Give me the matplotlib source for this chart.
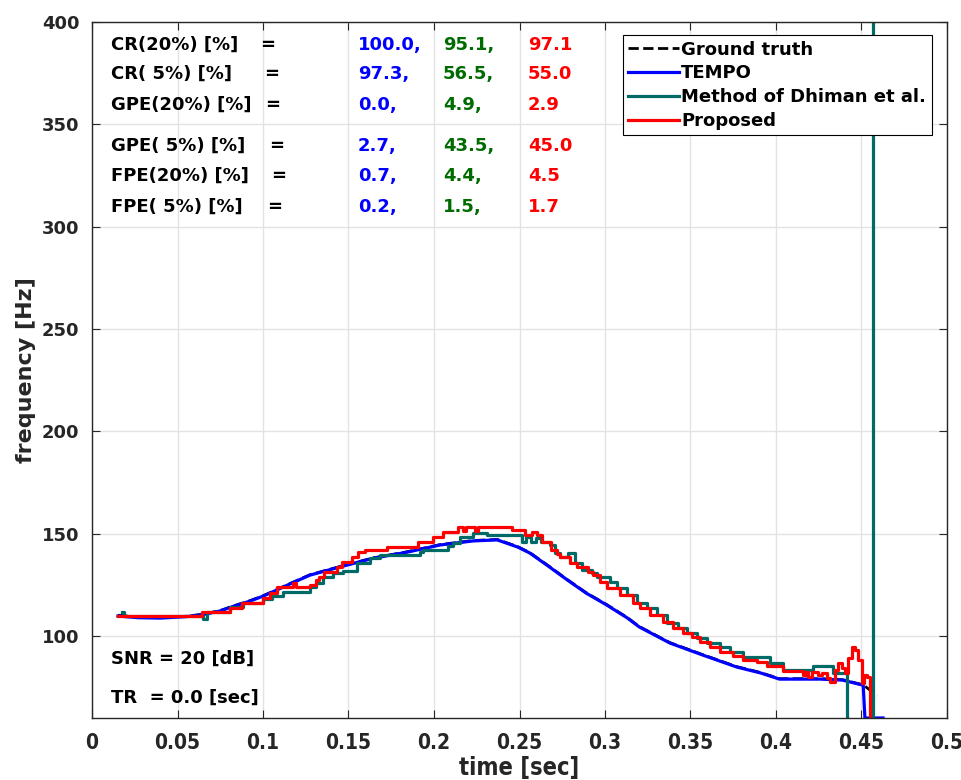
import numpy as np
import matplotlib
matplotlib.use("Agg")
import matplotlib.pyplot as plt

# ---- data ----
# ground truth (mostly hidden under TEMPO)
gt_t = [0.0152, 0.027, 0.040, 0.055, 0.065, 0.075, 0.0825, 0.092, 0.100, 0.108, 0.1158,
        0.1275, 0.145, 0.1643, 0.1842, 0.2035, 0.2228, 0.237, 0.249, 0.256, 0.266, 0.278,
        0.289, 0.301, 0.313, 0.320, 0.338, 0.357, 0.377, 0.391, 0.402, 0.426, 0.439, 0.451, 0.459]
gt_f = [110.2, 109.3, 109.1, 109.7, 110.7, 112.5, 114.7, 117.2, 119.7, 122.7, 125.7,
        130.0, 134.0, 138.2, 141.2, 144.7, 146.7, 147.2, 143.7, 140.8, 134.9, 127.6,
        121.2, 115.4, 109.1, 104.7, 96.8, 91.0, 85.1, 82.2, 79.2, 79.2, 78.7, 76.2, 71.0]

# TEMPO
tempo_t = [0.0152, 0.027, 0.040, 0.055, 0.065, 0.075, 0.0825, 0.092, 0.100, 0.108, 0.1158,
           0.1275, 0.145, 0.1643, 0.1842, 0.2035, 0.2228, 0.237, 0.249, 0.256, 0.266, 0.278,
           0.289, 0.301, 0.313, 0.320, 0.338, 0.357, 0.377, 0.391, 0.402, 0.426, 0.439, 0.451,
           0.452, 0.4626]
tempo_f = [109.8, 109.0, 108.8, 109.5, 110.5, 112.3, 114.5, 117.0, 119.5, 122.5, 125.5,
           129.8, 133.8, 138.0, 141.0, 144.5, 146.5, 147.0, 143.5, 140.6, 134.7, 127.4,
           121.0, 115.2, 108.9, 104.5, 96.6, 90.8, 84.9, 82.0, 79.0, 79.0, 78.5, 76.0,
           60.0, 60.0]

# Method of Dhiman et al. (step output)
dhiman_t = [0.0175, 0.0187, 0.065, 0.067, 0.0807, 0.0883, 0.100, 0.1053, 0.1117, 0.1275,
            0.131, 0.1351, 0.1409, 0.1468, 0.155, 0.1626, 0.1684, 0.1918, 0.1936, 0.2082,
            0.2111, 0.2152, 0.2228, 0.231, 0.2515, 0.2538, 0.2567, 0.2596, 0.2626, 0.2678,
            0.2708, 0.2737, 0.2784, 0.2825, 0.2865, 0.2924, 0.2953, 0.3029, 0.307, 0.3129,
            0.3187, 0.3246, 0.3304, 0.3363, 0.3427, 0.348, 0.3538, 0.3596, 0.3673, 0.3731,
            0.3807, 0.3965, 0.4041, 0.4216, 0.4333, 0.4415, 0.4567, 0.457]
dhiman_f = [112.0, 110.0, 108.5, 112.0, 114.0, 116.0, 118.0, 119.5, 121.5, 124.0,
            126.0, 129.0, 131.0, 132.0, 135.7, 138.0, 139.6, 141.0, 142.0, 144.0,
            145.5, 148.4, 150.4, 149.4, 146.0, 148.5, 146.0, 148.0, 146.0, 144.5,
            140.6, 138.6, 140.6, 135.7, 132.3, 131.0, 129.0, 126.4, 123.5, 120.0,
            116.2, 113.7, 110.3, 106.4, 104.0, 101.5, 99.0, 96.6, 94.7, 92.2,
            90.0, 87.0, 83.4, 85.5, 82.0, 0.0, 520.0, 520.0]

# Proposed (step output)
prop_t = [0.0152, 0.0643, 0.0807, 0.0877, 0.100, 0.1041, 0.1082, 0.1175, 0.1193, 0.1275,
          0.131, 0.1327, 0.1357, 0.1433, 0.1462, 0.152, 0.1556, 0.1596, 0.1725, 0.1906,
          0.1994, 0.2053, 0.214, 0.217, 0.2187, 0.224, 0.2257, 0.2456, 0.2532, 0.2573,
          0.2602, 0.2632, 0.2684, 0.2719, 0.2737, 0.2795, 0.2836, 0.2901, 0.293, 0.2971,
          0.3012, 0.3088, 0.3164, 0.3205, 0.3263, 0.3339, 0.3398, 0.3456, 0.3509, 0.3556,
          0.3614, 0.3673, 0.3749, 0.3807, 0.3889, 0.3947, 0.4041, 0.4158, 0.4175, 0.4187,
          0.4211, 0.4246, 0.4269, 0.4298, 0.4316, 0.4345, 0.4363, 0.4386, 0.4404, 0.4421,
          0.4444, 0.4462, 0.448, 0.4503, 0.4515, 0.4532, 0.455, 0.456]
prop_f = [110.0, 112.0, 113.7, 116.2, 118.5, 121.0, 124.0, 126.0, 124.0, 125.0,
          127.4, 129.0, 131.3, 133.8, 136.2, 138.6, 141.0, 142.0, 143.5, 146.0,
          148.4, 150.8, 153.3, 151.5, 153.3, 151.5, 153.3, 152.0, 149.4, 151.0,
          149.4, 146.0, 142.0, 140.0, 138.6, 135.7, 133.8, 131.3, 129.9, 126.4,
          123.5, 120.0, 116.2, 113.7, 110.3, 106.9, 104.0, 101.5, 99.6, 97.1,
          94.7, 92.2, 90.3, 88.3, 87.4, 85.4, 83.0, 81.0, 82.5, 80.0,
          82.5, 81.0, 82.0, 79.5, 77.6, 83.4, 87.0, 84.4, 82.0, 89.3,
          94.7, 93.2, 88.3, 77.0, 81.0, 80.0, 0.0, 0.0]

legend_labels = ["Ground truth", "TEMPO", "Method of Dhiman et al.", "Proposed"]

metric_names = ["CR(20%) [%]", "CR( 5%) [%]", "GPE(20%) [%]",
                "GPE( 5%) [%]", "FPE(20%) [%]", "FPE( 5%) [%]"]
tempo_vals = ["100.0,", "97.3,", "0.0,", "2.7,", "0.7,", "0.2,"]
dhiman_vals = ["95.1,", "56.5,", "4.9,", "43.5,", "4.4,", "1.5,"]
prop_vals = ["97.1", "55.0", "2.9", "45.0", "4.5", "1.7"]

xticks = [0, 0.05, 0.1, 0.15, 0.2, 0.25, 0.3, 0.35, 0.4, 0.45, 0.5]
xtick_labels = ["0", "0.05", "0.1", "0.15", "0.2", "0.25", "0.3", "0.35", "0.4", "0.45", "0.5"]
yticks = [100, 150, 200, 250, 300, 350, 400]

# ---- colours / fonts ----
c_tempo = "#0000ff"
c_dhiman = "#006a66"
c_prop = "#ff0000"
c_green_txt = "#006b00"
c_axis = "#262626"

plt.rcParams["font.family"] = ["DejaVu Sans"]
plt.rcParams["font.weight"] = "bold"

fig = plt.figure(figsize=(9.62, 7.8), dpi=100)
ax = fig.add_axes([92 / 962, 1 - 718 / 780, 855 / 962, 696 / 780])

lw = 2.3
ax.plot(gt_t, gt_f, color="k", ls="--", lw=2.0, label=legend_labels[0])
ax.plot(tempo_t, tempo_f, color=c_tempo, lw=lw, label=legend_labels[1])
ax.plot(dhiman_t, dhiman_f, color=c_dhiman, lw=lw, drawstyle="steps-post", label=legend_labels[2])
ax.plot(prop_t, prop_f, color=c_prop, lw=lw, drawstyle="steps-post", label=legend_labels[3])

ax.set_xlim(0, 0.5)
ax.set_ylim(60, 400)
ax.set_xticks(xticks)
ax.set_xticklabels(xtick_labels, fontsize=15, fontweight="bold", fontstretch="condensed")
ax.set_yticks(yticks)
ax.tick_params(direction="in", length=6, top=True, right=True, colors=c_axis, width=0.8)
ax.tick_params(axis="y", labelsize=13, pad=9)
ax.tick_params(axis="x", pad=11)
ax.grid(True, color="#e3e3e3", lw=1.0)
ax.set_axisbelow(True)
for s in ax.spines.values():
    s.set_color(c_axis)
    s.set_linewidth(1.0)

ax.set_xlabel("time [sec]", fontsize=17, fontweight="bold", color=c_axis,
              fontstretch="condensed", va="top")
ax.xaxis.set_label_coords(0.5, -0.055)
ax.set_ylabel("frequency [Hz]", fontsize=16, fontweight="bold", color=c_axis)
ax.yaxis.set_label_coords(-0.066, 0.5)

# metrics block
row_y = [388.8, 374.6, 359.5, 339.4, 324.8, 309.6]
eq_x = [0.1029, 0.1053, 0.1058, 0.1082, 0.1094, 0.1070]
for i in range(len(metric_names)):
    ax.text(0.0111, row_y[i], metric_names[i], fontsize=13, fontweight="bold", va="center", color="k")
    ax.text(eq_x[i], row_y[i], "=", fontsize=13, fontweight="bold", va="center", ha="center", color="k")
    ax.text(0.1556, row_y[i], tempo_vals[i], fontsize=13, fontweight="bold", va="center", color=c_tempo)
    ax.text(0.2053, row_y[i], dhiman_vals[i], fontsize=13, fontweight="bold", va="center", color=c_green_txt)
    ax.text(0.2550, row_y[i], prop_vals[i], fontsize=13, fontweight="bold", va="center", color=c_prop)

ax.text(0.0111, 89.0, "SNR = 20 [dB]", fontsize=13, fontweight="bold", va="center", color="k")
ax.text(0.0111, 69.8, "TR  = 0.0 [sec]", fontsize=13, fontweight="bold", va="center", color="k")

leg = ax.legend(loc="upper right", bbox_to_anchor=(0.982, 0.981), borderaxespad=0,
                fancybox=False, framealpha=1, edgecolor="k", handlelength=2.8,
                handletextpad=0.15, labelspacing=0.32, borderpad=0.3,
                prop={"weight": "bold", "size": 13})
leg.get_frame().set_linewidth(0.8)

fig.savefig("out.png", dpi=100)
